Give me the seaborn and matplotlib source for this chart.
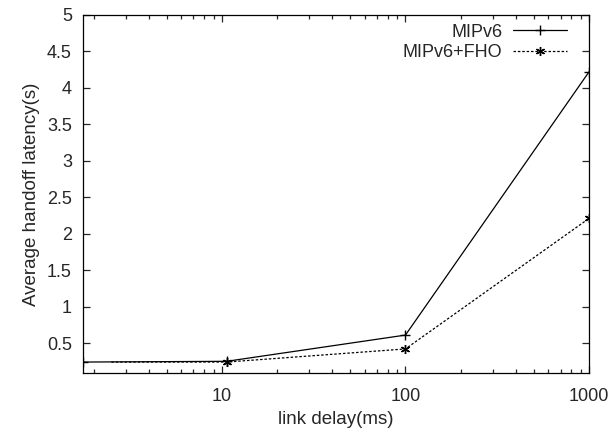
import pandas as pd
import matplotlib
matplotlib.use("Agg")
import matplotlib.pyplot as plt
import matplotlib.ticker as mticker
import seaborn as sns

# values
delay_mipv6 = [1.75, 10.6, 100, 1000]
latency_mipv6 = [0.24, 0.25, 0.61, 4.22]

delay_fho = [2.5, 10.6, 100, 1000]
latency_fho = [0.24, 0.24, 0.42, 2.21]

y_ticks = [0.5, 1, 1.5, 2, 2.5, 3, 3.5, 4, 4.5, 5]
x_ticks = [10, 100, 1000]

sns.set_style("ticks")
plt.rcParams["font.family"] = ["Liberation Sans", "DejaVu Sans"]

fig = plt.figure(figsize=(6.11, 4.32), dpi=100)
ax = fig.add_axes([0.1358, 0.1366, 0.8282, 0.8287])

df1 = pd.DataFrame({"delay": delay_mipv6, "latency": latency_mipv6})
df2 = pd.DataFrame({"delay": delay_fho, "latency": latency_fho})

sns.lineplot(data=df1, x="delay", y="latency", ax=ax, color="black",
             linewidth=0.9, marker="+", markersize=6.5, markeredgewidth=1.0,
             markeredgecolor="black", label="MIPv6")
sns.lineplot(data=df2, x="delay", y="latency", ax=ax, color="black",
             linewidth=0.9, linestyle=(0, (2, 1.5)), marker=(6, 2, 0),
             markersize=6.5, markeredgewidth=1.0, markeredgecolor="black",
             markevery=[1, 2, 3], label="MIPv6+FHO")

ax.set_xscale("log")
ax.set_xlim(1.75, 1000)
ax.set_ylim(0.09, 5)
ax.set_xticks(x_ticks)
ax.xaxis.set_major_formatter(mticker.FormatStrFormatter("%d"))
ax.xaxis.set_minor_formatter(mticker.NullFormatter())
ax.set_yticks(y_ticks)
ax.yaxis.set_major_formatter(mticker.FormatStrFormatter("%g"))

ax.tick_params(axis="both", which="major", direction="in", length=5,
               width=0.9, top=True, right=True, labelsize=13)
ax.tick_params(axis="x", which="major", pad=11)
ax.tick_params(axis="y", which="major", pad=8)
ax.tick_params(axis="x", which="minor", direction="in", length=3,
               width=0.9, top=True)
for s in ax.spines.values():
    s.set_linewidth(0.9)
    s.set_color("black")

ax.set_xlabel("link delay(ms)", fontsize=13.5, labelpad=4)
ax.set_ylabel("Average handoff latency(s)", fontsize=13.5, labelpad=5)

leg = ax.legend(loc="upper right", bbox_to_anchor=(0.9715, 0.996),
                frameon=False, markerfirst=False, fontsize=13,
                handlelength=3.0, handletextpad=0.6, labelspacing=0.2,
                borderaxespad=0)
for t in leg.get_texts():
    t.set_ha("right")
leg._legend_box.align = "right"

fig.savefig("out.png", dpi=100)
